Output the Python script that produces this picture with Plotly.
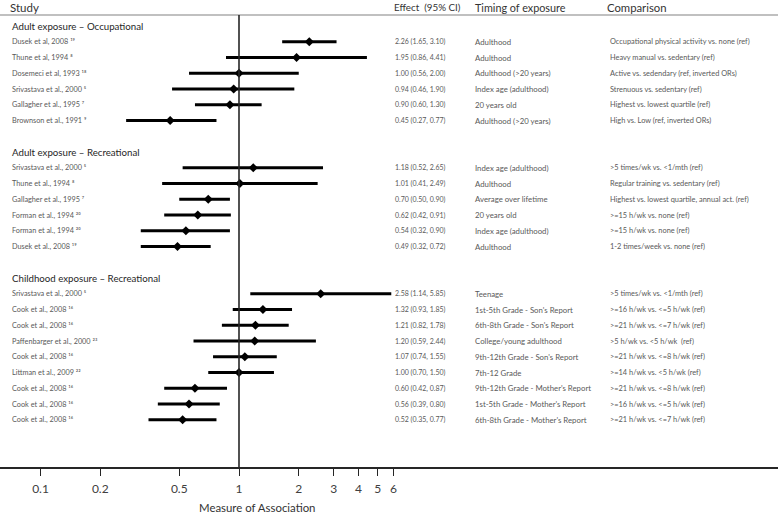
import plotly.graph_objects as go

# ---------------- data ----------------
sections = ["Adult exposure – Occupational", "Adult exposure – Recreational", "Childhood exposure – Recreational"]

occ_study = ["Dusek et al, 2008 ¹⁹", "Thune et al, 1994 ⁸", "Dosemeci et al, 1993 ¹⁸",
             "Srivastava et al., 2000 ⁵", "Gallagher et al., 1995 ⁷", "Brownson et al., 1991 ⁹"]
occ_est = [2.26, 1.95, 1.00, 0.94, 0.90, 0.45]
occ_lo = [1.65, 0.86, 0.56, 0.46, 0.60, 0.27]
occ_hi = [3.10, 4.41, 2.00, 1.90, 1.30, 0.77]
occ_timing = ["Adulthood", "Adulthood", "Adulthood (>20 years)", "Index age (adulthood)", "20 years old", "Adulthood (>20 years)"]
occ_comp = ["Occupational physical activity vs. none (ref)", "Heavy manual vs. sedentary (ref)",
            "Active vs. sedendary (ref, inverted ORs)", "Strenuous vs. sedentary (ref)",
            "Highest vs. lowest quartile (ref)", "High vs. Low (ref, inverted ORs)"]

rec_study = ["Srivastava et al., 2000 ⁵", "Thune et al., 1994 ⁸", "Gallagher et al., 1995 ⁷",
             "Forman et al., 1994 ²⁰", "Forman et al., 1994 ²⁰", "Dusek et al., 2008 ¹⁹"]
rec_est = [1.18, 1.01, 0.70, 0.62, 0.54, 0.49]
rec_lo = [0.52, 0.41, 0.50, 0.42, 0.32, 0.32]
rec_hi = [2.65, 2.49, 0.90, 0.91, 0.90, 0.72]
rec_timing = ["Index age (adulthood)", "Adulthood", "Average over lifetime", "20 years old", "Index age (adulthood)", "Adulthood"]
rec_comp = [">5 times/wk vs. <1/mth (ref)", "Regular training vs. sedentary (ref)",
            "Highest vs. lowest quartile, annual act. (ref)", ">=15 h/wk vs. none (ref)",
            ">=15 h/wk vs. none (ref)", "1-2 times/week vs. none (ref)"]

chi_study = ["Srivastava et al., 2000 ⁵", "Cook et al., 2008 ¹⁶", "Cook et al., 2008 ¹⁶",
             "Paffenbarger et al., 2000 ²³", "Cook et al., 2008 ¹⁶", "Littman et al., 2009 ²²",
             "Cook et al., 2008 ¹⁶", "Cook et al., 2008 ¹⁶", "Cook et al., 2008 ¹⁶"]
chi_est = [2.58, 1.32, 1.21, 1.20, 1.07, 1.00, 0.60, 0.56, 0.52]
chi_lo = [1.14, 0.93, 0.82, 0.59, 0.74, 0.70, 0.42, 0.39, 0.35]
chi_hi = [5.85, 1.85, 1.78, 2.44, 1.55, 1.50, 0.87, 0.80, 0.77]
chi_timing = ["Teenage", "1st-5th Grade - Son's Report", "6th-8th Grade - Son's Report", "College/young adulthood",
              "9th-12th Grade - Son's Report", "7th-12 Grade", "9th-12th Grade - Mother's Report",
              "1st-5th Grade - Mother's Report", "6th-8th Grade - Mother's Report"]
chi_comp = [">5 times/wk vs. <1/mth (ref)", ">=16 h/wk vs. <=5 h/wk (ref)", ">=21 h/wk vs. <=7 h/wk (ref)",
            ">5 h/wk vs. <5 h/wk  (ref)", ">=21 h/wk vs. <=8 h/wk (ref)", ">=14 h/wk vs. <5 h/wk (ref)",
            ">=21 h/wk vs. <=8 h/wk (ref)", ">=16 h/wk vs. <=5 h/wk (ref)", ">=21 h/wk vs. <=7 h/wk (ref)"]

headers = ["Study", "Effect  (95% CI)", "Timing of exposure", "Comparison"]
tick_vals = [0.1, 0.2, 0.5, 1, 2, 3, 4, 5, 6]
tick_text = ["0.1", "0.2", "0.5", "1", "2", "3", "4", "5", "6"]
x_title = "Measure of Association"

# ---------------- layout helpers ----------------
W, H = 778, 513
ROW0_PX, ROW_PX = 26, 15.75
AXIS_PX = 467
X1_PX, DEC_PX = 239, 198.5

def esc(s):
    return s.replace("<", "&lt;").replace(">", "&gt;")

def ypx_to_k(px):
    return (px - ROW0_PX) / ROW_PX

GREY = "#595959"
F = "Lato"
STUDY_F = dict(family=F, size=7.3, color=GREY)
EFF_F = dict(family=F, size=7.0, color=GREY)
TIM_F = dict(family=F, size=7.8, color=GREY)
CMP_F = dict(family=F, size=7.4, color=GREY)
SEC = dict(family=F, size=9.7, color="#262626")

groups = [
    (occ_study, occ_est, occ_lo, occ_hi, occ_timing, occ_comp),
    (rec_study, rec_est, rec_lo, rec_hi, rec_timing, rec_comp),
    (chi_study, chi_est, chi_lo, chi_hi, chi_timing, chi_comp),
]

fig = go.Figure()
annotations = []
k = 0
xs, ys, ep, em = [], [], [], []
for name, (st, es, lo, hi, tm, cp) in zip(sections, groups):
    annotations.append(dict(x=10 / W, y=k, xref="paper", yref="y", text=name, showarrow=False,
                            xanchor="left", yanchor="middle", font=SEC))
    k += 1
    for i in range(len(st)):
        xs.append(es[i]); ys.append(k)
        ep.append(hi[i] - es[i]); em.append(es[i] - lo[i])
        annotations.append(dict(x=10 / W, y=k, xref="paper", yref="y", text=st[i], showarrow=False,
                                xanchor="left", yanchor="middle", font=STUDY_F))
        annotations.append(dict(x=393 / W, y=k, xref="paper", yref="y",
                                text=f"{es[i]:.2f} ({lo[i]:.2f}, {hi[i]:.2f})", showarrow=False,
                                xanchor="left", yanchor="middle", font=EFF_F))
        annotations.append(dict(x=473 / W, y=k, xref="paper", yref="y", text=esc(tm[i]), showarrow=False,
                                xanchor="left", yanchor="middle", font=TIM_F))
        annotations.append(dict(x=608 / W, y=k, xref="paper", yref="y", text=esc(cp[i]), showarrow=False,
                                xanchor="left", yanchor="middle", font=CMP_F))
        k += 1
    k += 1

fig.add_trace(go.Scatter(
    x=xs, y=ys, mode="markers",
    marker=dict(symbol="diamond", size=7, color="black"),
    error_x=dict(type="data", symmetric=False, array=ep, arrayminus=em,
                 thickness=2.8, width=0, color="black"),
    hoverinfo="skip", showlegend=False,
))

# headers
for txt, xp, fs in zip(headers, [8, 392, 473, 605], [11.5, 9.8, 10.8, 11.3]):
    annotations.append(dict(x=xp / W, y=ypx_to_k(7), xref="paper", yref="y", text=txt, showarrow=False,
                            xanchor="left", yanchor="middle", font=dict(family=F, size=fs, color="#333333")))

plot_h = AXIS_PX
annotations.append(dict(x=257 / W, y=(AXIS_PX - 507) / plot_h, xref="paper", yref="paper", text=x_title,
                        showarrow=False, xanchor="center", yanchor="middle",
                        font=dict(family=F, size=11.4, color="#333333")))

shapes = [
    dict(type="line", xref="paper", yref="y", x0=0, x1=1, y0=ypx_to_k(15), y1=ypx_to_k(15),
         line=dict(color="#c0c0c0", width=2)),
    dict(type="line", xref="x", yref="y", x0=1, x1=1, y0=ypx_to_k(15), y1=ypx_to_k(AXIS_PX),
         line=dict(color="#262626", width=1.6)),
]

xr = [-X1_PX / DEC_PX, (W - X1_PX) / DEC_PX]
fig.update_layout(
    width=W, height=H,
    margin=dict(l=0, r=0, t=0, b=H - AXIS_PX),
    paper_bgcolor="white", plot_bgcolor="white",
    annotations=annotations, shapes=shapes,
    xaxis=dict(type="log", range=xr, tickvals=tick_vals, ticktext=tick_text,
               showline=True, linecolor="#262626", linewidth=1.6, ticks="outside", ticklen=7,
               tickcolor="#262626", tickwidth=1.2, showgrid=False, zeroline=False,
               ticklabelstandoff=3,
               tickfont=dict(family=F, size=12, color="#404040")),
    yaxis=dict(range=[ypx_to_k(AXIS_PX), ypx_to_k(0)], visible=False, showgrid=False, zeroline=False),
)

fig.write_html("out.html", config={"displayModeBar": False},
               post_script="document.body.style.margin='0';document.body.style.padding='0';")
